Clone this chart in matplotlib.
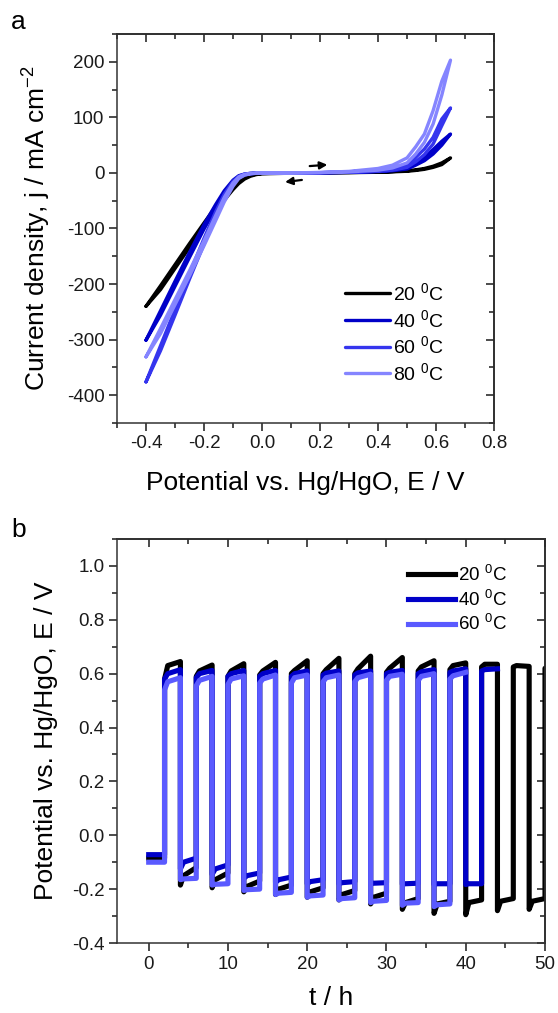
import numpy as np
import matplotlib
matplotlib.use("Agg")
import matplotlib.pyplot as plt
from matplotlib.ticker import MultipleLocator, FormatStrFormatter

plt.rcParams['font.family'] = ['Liberation Sans', 'DejaVu Sans']
plt.rcParams['mathtext.fontset'] = 'custom'
plt.rcParams['mathtext.rm'] = 'Liberation Sans'
plt.rcParams['mathtext.it'] = 'Liberation Sans:italic'
plt.rcParams['mathtext.default'] = 'regular'
plt.rcParams['axes.unicode_minus'] = False
plt.rcParams['axes.linewidth'] = 1.1

# ---- panel a: CVs ----
E_grid = [-0.40, -0.35, -0.30, -0.25, -0.20, -0.16, -0.13, -0.10, -0.08, -0.06, -0.04, -0.02,
          0.00, 0.10, 0.20, 0.30, 0.40, 0.45, 0.50, 0.53, 0.56, 0.59, 0.62, 0.65]

j20_fwd = [-240, -203, -165, -127, -90, -61, -42, -24, -14, -8, -4, -2,
           -1, 0, 0.3, 0.8, 1.5, 2.5, 4, 5.5, 8, 12, 18, 27]
j20_rev = [-240, -210, -172, -134, -97, -68, -49, -30, -19, -11, -6, -3,
           -1.5, -0.5, 0.2, 0.5, 1.2, 2, 3, 4.5, 6.5, 10, 15, 27]
j40_fwd = [-301, -248, -195, -143, -93, -57, -32, -13, -5, -2, -0.8, -0.3,
           0, 0, 0.3, 1, 2.5, 4, 7, 14, 22, 34, 50, 70]
j40_rev = [-301, -256, -204, -152, -101, -64, -38, -17, -8, -3.5, -1.5, -0.6,
           -0.2, 0, 0.4, 1.2, 3, 5, 9, 18, 28, 42, 57, 70]
j60_fwd = [-376, -311, -246, -181, -118, -70, -38, -15, -6, -2, -0.8, -0.3,
           0, 0, 0.4, 1.2, 3, 5, 10, 20, 33, 52, 85, 117]
j60_rev = [-376, -320, -256, -191, -128, -80, -46, -20, -9, -3.5, -1.5, -0.6,
           -0.2, 0, 0.5, 1.6, 4, 7, 14, 28, 43, 64, 97, 117]
j80_fwd = [-331, -280, -228, -176, -122, -77, -44, -18, -7, -2.5, -1, -0.3,
           0, 0.2, 0.6, 2, 5, 9, 18, 34, 55, 88, 140, 203]
j80_rev = [-331, -289, -237, -185, -131, -86, -52, -24, -10, -4, -1.5, -0.6,
           -0.2, 0.1, 0.8, 2.8, 8, 14, 27, 47, 70, 112, 165, 203]

labels_a = ['20 $^0$C', '40 $^0$C', '60 $^0$C', '80 $^0$C']
colors_a = ['#000000', '#0000C8', '#3535EE', '#8585FF']
cv_fwd = [j20_fwd, j40_fwd, j60_fwd, j80_fwd]
cv_rev = [j20_rev, j40_rev, j60_rev, j80_rev]

arrow_fwd = [(0.155, 12), (0.235, 15)]
arrow_back = [(0.147, -12), (0.07, -17)]

# ---- panel b: galvanostatic cycling, segments of 2 h ----
seg_h = 2.0
knee_h = 0.4
v20_start = [-0.085, 0.58, -0.185, 0.59, -0.195, 0.59, -0.21, 0.595, -0.22, 0.60, -0.23, 0.60, -0.24,
             0.60, -0.255, 0.605, -0.275, 0.61, -0.29, 0.615, -0.295, 0.625, -0.28, 0.625, -0.275, 0.62]
v20_knee = [-0.085, 0.63, -0.15, 0.61, -0.165, 0.61, -0.19, 0.61, -0.20, 0.612, -0.21, 0.615, -0.22,
            0.618, -0.23, 0.62, -0.25, 0.625, -0.255, 0.63, -0.25, 0.635, -0.245, 0.63, -0.245, 0.625]
v20_end = [-0.085, 0.645, -0.12, 0.632, -0.14, 0.637, -0.17, 0.642, -0.185, 0.648, -0.195, 0.657, -0.205,
           0.665, -0.215, 0.66, -0.235, 0.648, -0.245, 0.64, -0.24, 0.635, -0.235, 0.627, -0.235, 0.625]

v40_start = [-0.072, 0.58, -0.125, 0.585, -0.145, 0.59, -0.16, 0.59, -0.175, 0.59, -0.18, 0.595,
             -0.18, 0.595, -0.18, 0.60, -0.182, 0.60, -0.183, 0.605, -0.183, 0.61]
v40_knee = [-0.072, 0.60, -0.10, 0.60, -0.125, 0.60, -0.15, 0.60, -0.165, 0.60, -0.172, 0.602,
            -0.176, 0.603, -0.178, 0.605, -0.18, 0.607, -0.18, 0.61, -0.18, 0.615]
v40_end = [-0.072, 0.615, -0.085, 0.612, -0.11, 0.612, -0.14, 0.612, -0.155, 0.61, -0.165, 0.61,
           -0.172, 0.61, -0.176, 0.612, -0.178, 0.615, -0.18, 0.618, -0.18, 0.618]

v60_start = [-0.10, 0.54, -0.165, 0.555, -0.185, 0.56, -0.205, 0.565, -0.22, 0.565, -0.23, 0.57,
             -0.24, 0.57, -0.25, 0.575, -0.26, 0.575, -0.265, 0.58]
v60_knee = [-0.10, 0.57, -0.162, 0.575, -0.182, 0.58, -0.202, 0.58, -0.215, 0.585, -0.225, 0.585,
            -0.235, 0.585, -0.245, 0.59, -0.252, 0.59, -0.258, 0.592]
v60_end = [-0.10, 0.585, -0.16, 0.59, -0.18, 0.592, -0.20, 0.595, -0.212, 0.595, -0.222, 0.595,
           -0.232, 0.598, -0.242, 0.598, -0.25, 0.60, -0.255, 0.605]

labels_b = ['20 $^0$C', '40 $^0$C', '60 $^0$C']
colors_b = ['#000000', '#0000C8', '#5A5AFF']
cyc = [(v20_start, v20_knee, v20_end), (v40_start, v40_knee, v40_end), (v60_start, v60_knee, v60_end)]


def square_trace(vs, vk, ve):
    t, v = [], []
    for i in range(len(vs)):
        ts = i * seg_h
        t += [ts, ts + knee_h, ts + seg_h]
        v += [vs[i], vk[i], ve[i]]
    return np.array(t), np.array(v)


def style_axes(ax):
    ax.tick_params(which='both', direction='out', top=False, right=False, labelsize=13.5,
                   colors='#1a1a1a', pad=3)
    ax.tick_params(which='major', length=6, width=1.1)
    ax.tick_params(which='minor', length=3.5, width=1.1)
    # inward ticks on top and right, like the original
    for side in ('top', 'right'):
        sec = ax.secondary_xaxis('top') if side == 'top' else ax.secondary_yaxis('right')
        sec.tick_params(which='both', direction='in', labelsize=0, width=1.1, colors='#1a1a1a')
        sec.tick_params(which='major', length=6)
        sec.tick_params(which='minor', length=3.5)
        if side == 'top':
            sec.xaxis.set_major_locator(ax.xaxis.get_major_locator())
            sec.xaxis.set_minor_locator(ax.xaxis.get_minor_locator())
            sec.set_xticklabels([])
        else:
            sec.yaxis.set_major_locator(ax.yaxis.get_major_locator())
            sec.yaxis.set_minor_locator(ax.yaxis.get_minor_locator())
            sec.set_yticklabels([])
    for sp in ax.spines.values():
        sp.set_color('#333333')


fig = plt.figure(figsize=(5.58, 10.13), dpi=100)

# panel a
ax1 = fig.add_axes([117 / 558, 1 - 423 / 1013, 377 / 558, 389 / 1013])
for jf, jr, c, lab in zip(cv_fwd, cv_rev, colors_a, labels_a):
    E = E_grid + E_grid[::-1]
    j = jf + jr[::-1]
    ax1.plot(E, j, color=c, lw=2.4, label=lab, solid_capstyle='round', solid_joinstyle='round')
ax1.set_xlim(-0.5, 0.8)
ax1.set_ylim(-450, 250)
ax1.xaxis.set_major_locator(MultipleLocator(0.2))
ax1.xaxis.set_minor_locator(MultipleLocator(0.1))
ax1.yaxis.set_major_locator(MultipleLocator(100))
ax1.yaxis.set_minor_locator(MultipleLocator(50))
ax1.xaxis.set_major_formatter(FormatStrFormatter('%.1f'))
ax1.set_xticks([-0.4, -0.2, 0.0, 0.2, 0.4, 0.6, 0.8])
ax1.set_yticks([-400, -300, -200, -100, 0, 100, 200])
style_axes(ax1)
ax1.set_xlabel('Potential vs. Hg/HgO, E / V', fontsize=19, labelpad=13)
ax1.set_ylabel('Current density, j / mA cm$^{-2}$', fontsize=19, labelpad=10)
for (p0, p1) in (arrow_fwd, arrow_back):
    ax1.annotate('', xy=p1, xytext=p0,
                 arrowprops=dict(arrowstyle='-|>', color='black', lw=1.6, mutation_scale=11))
ax1.legend(loc='center left', bbox_to_anchor=(0.605, 0.231), frameon=False, fontsize=14,
           handlelength=2.3, handletextpad=0.15, labelspacing=0.25, borderpad=0, borderaxespad=0)

# panel b
ax2 = fig.add_axes([117 / 558, 1 - 943 / 1013, 428 / 558, 404 / 1013])
for (vs, vk, ve), c, lab in zip(cyc, colors_b, labels_b):
    t, v = square_trace(vs, vk, ve)
    ax2.plot(t, v, color=c, lw=3.7, label=lab, solid_joinstyle='round')
ax2.set_xlim(-4, 50)
ax2.set_ylim(-0.4, 1.1)
ax2.xaxis.set_major_locator(MultipleLocator(10))
ax2.xaxis.set_minor_locator(MultipleLocator(5))
ax2.yaxis.set_major_locator(MultipleLocator(0.2))
ax2.yaxis.set_minor_locator(MultipleLocator(0.1))
ax2.set_xticks([0, 10, 20, 30, 40, 50])
ax2.set_yticks([-0.4, -0.2, 0.0, 0.2, 0.4, 0.6, 0.8, 1.0])
ax2.yaxis.set_major_formatter(FormatStrFormatter('%.1f'))
style_axes(ax2)
ax2.set_xlabel('t / h', fontsize=19, labelpad=10)
ax2.set_ylabel('Potential vs. Hg/HgO, E / V', fontsize=19, labelpad=10)
ax2.legend(loc='center left', bbox_to_anchor=(0.68, 0.85), frameon=False, fontsize=13.5,
           handlelength=2.5, handletextpad=0.15, labelspacing=0.25, borderpad=0, borderaxespad=0)

fig.text(0.02, 0.971, 'a', fontsize=19)
fig.text(0.02, 0.470, 'b', fontsize=19)

fig.savefig('out.png', dpi=100)
